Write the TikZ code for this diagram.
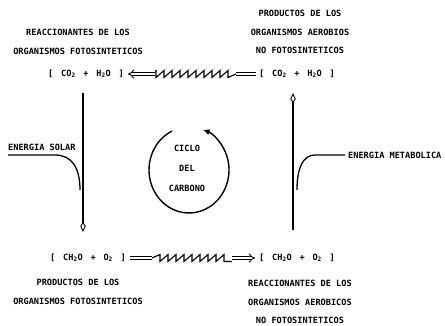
\documentclass[tikz,border=0pt]{standalone}
\usepackage{fontspec}
\newfontfamily\typefont{DejaVu Sans Mono}
\usetikzlibrary{arrows.meta,decorations.pathmorphing}
\newcommand{\chsp}{\hspace{2.6pt}}
\begin{document}
\begin{tikzpicture}[x=1pt,y=-1pt,
  lbl/.style={font=\typefont\bfseries\fontsize{8.6}{18.5}\selectfont, align=center, inner sep=0pt},
  chem/.style={font=\typefont\bfseries\fontsize{8.6}{10}\selectfont, inner sep=1pt},
  vert/.style={line width=1.9pt, -{Kite[open,length=10pt,width=5.5pt,inset=4pt,line width=0.9pt]}},
  dbl/.style={double, double distance=2.2pt, line width=0.9pt},
  sawline/.style={line width=1.1pt, decorate, decoration={saw, segment length=8pt, amplitude=7pt, raise=-3.5pt}},
  energy/.style={line width=1.3pt},
  cyc/.style={line width=1.4pt, -{Latex[length=7pt,width=6pt]}}
]
\useasboundingbox[fill=white] (0,0) rectangle (445,326);
% text blocks
\node[lbl] (tl) at (78,42) {REACCIONANTES DE LOS\\ORGANISMOS FOTOSINTETICOS};
\node[lbl] (tr) at (300,32) {PRODUCTOS DE LOS\\ORGANISMOS AEROBIOS\\NO FOTOSINTETICOS};
\node[lbl] (bl) at (78,292) {PRODUCTOS DE LOS\\ORGANISMOS FOTOSINTETICOS};
\node[lbl] (br) at (300,302) {REACCIONANTES DE LOS\\ORGANISMOS AEROBICOS\\NO FOTOSINTETICOS};
% formulas
\node[chem] (co2l) at (86,74) {[ \chsp{}CO\textsubscript{2} \chsp{}+ \chsp{}H\textsubscript{2}O \chsp{}]};
\node[chem] (co2r) at (297,74) {[ \chsp{}CO\textsubscript{2} \chsp{}+ \chsp{}H\textsubscript{2}O \chsp{}]};
\node[chem] (ch2ol) at (88,258) {[ \chsp{}CH\textsubscript{2}O \chsp{}+ \chsp{}O\textsubscript{2} \chsp{}]};
\node[chem] (ch2or) at (297,258) {[ \chsp{}CH\textsubscript{2}O \chsp{}+ \chsp{}O\textsubscript{2} \chsp{}]};
% energy labels
\node[lbl, anchor=west] (sol) at (8,147) {ENERGIA SOLAR};
\node[lbl, anchor=west] (met) at (348,155) {ENERGIA METABOLICA};
% cycle labels
\node[lbl] (c1) at (187,148) {CICLO};
\node[lbl] (c2) at (187,168) {DEL};
\node[lbl] (c3) at (187,188) {CARBONO};
% coordinates
\coordinate (ta1) at (236,74);
\coordinate (ta2) at (155,74);
\coordinate (ba1) at (152,258);
\coordinate (ba2) at (232,258);
\coordinate (lt) at (83,93);
\coordinate (lb) at (83,232);
\coordinate (rt) at (293,93);
\coordinate (rb) at (293,230);
\coordinate (s0) at (8,155);
\coordinate (s1) at (55,155);
\coordinate (s2) at (80,190);
\coordinate (m0) at (345,155);
\coordinate (m1) at (315,155);
\coordinate (m2) at (297,190);
% top arrow
\draw[dbl, shorten <=2pt] (co2r.west) -- (ta1);
\draw[sawline] (ta1) -- (ta2);
\draw[dbl, -{Implies}, shorten >=3pt] (ta2) -- (co2l.east);
% bottom arrow
\draw[dbl, shorten <=3pt] (ch2ol.east) -- (ba1);
\draw[sawline] (ba1) -- (ba2);
\draw[dbl, -{Implies}, shorten >=3pt] (ba2) -- (ch2or.west);
% vertical arrows
\draw[vert] (lt) -- (lb);
\draw[vert] (rb) -- (rt);
% energy curves
\draw[energy] (s0) -- (s1) .. controls (72,155) and (80,168) .. (s2);
\draw[energy] (m0) -- (m1) .. controls (303,155) and (297,168) .. (m2);
% cycle
\draw[cyc] (172.1,131) arc[start angle=115, end angle=430, x radius=40pt, y radius=43pt];
\end{tikzpicture}
\end{document}
